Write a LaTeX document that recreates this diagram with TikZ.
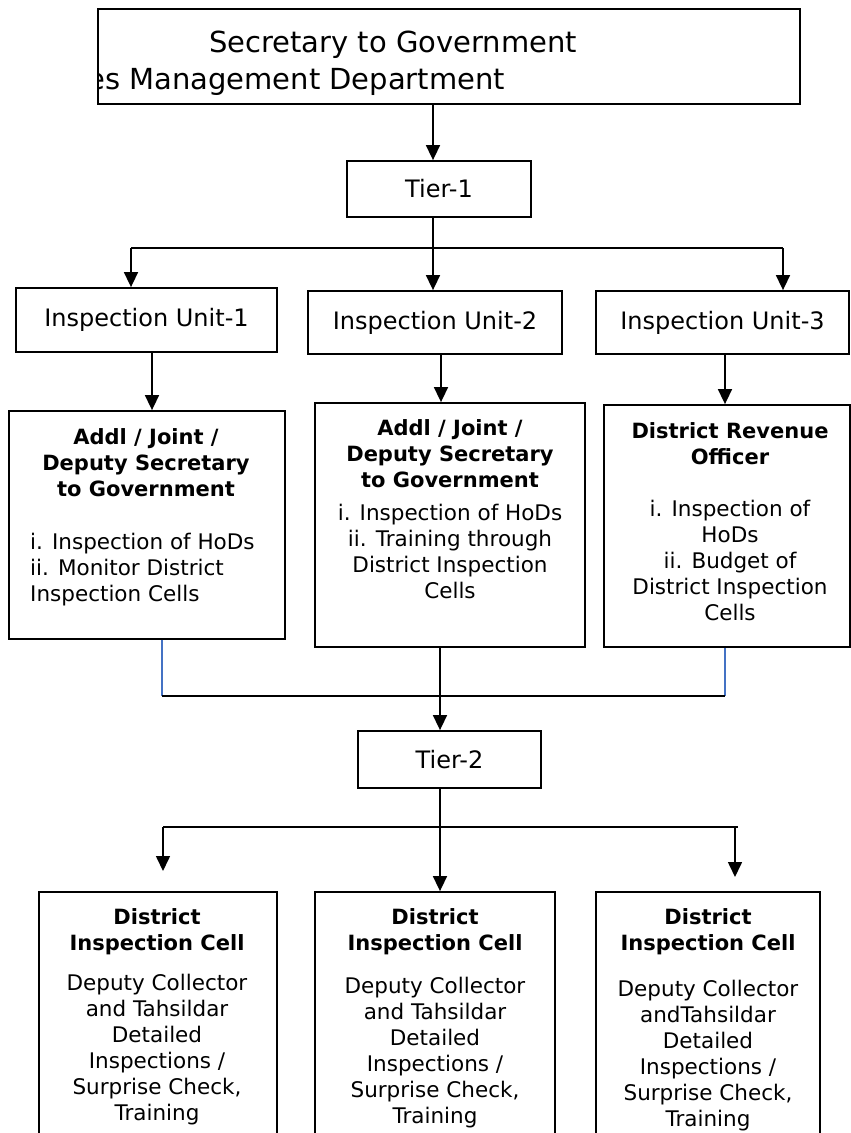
\documentclass[tikz,border=0pt]{standalone}
\usepackage{fontspec}
\setmainfont{DejaVu Sans}
\usetikzlibrary{arrows.meta}
\definecolor{lineblue}{HTML}{4472C4}
\begin{document}
\begin{tikzpicture}[x=1pt,y=-1pt,
  box/.style={draw, line width=1.8pt, inner sep=0pt},
  arr/.style={line width=1.6pt, -{Triangle[length=15pt,width=14pt]}},
  ln/.style={line width=1.6pt},
  bl/.style={line width=1.3pt, draw=lineblue},
  unit/.style={font=\fontsize{24}{28}\selectfont},
  body/.style={font=\fontsize{21.5}{26}\selectfont, inner sep=0pt, align=center},
  hd/.style={font=\fontsize{21}{26}\selectfont\bfseries, inner sep=0pt, align=center},
]
\clip (0,0) rectangle (851,1133);
\fill[white] (0,0) rectangle (851,1133);

% boxes
\node[box, minimum width=702pt, minimum height=95pt] (top) at (449,56.5) {};
\node[box, unit, minimum width=184pt, minimum height=56pt] (t1) at (439,189) {Tier-1};
\node[box, unit, minimum width=261pt, minimum height=64pt] (iu1) at (146.5,320) {Inspection Unit-1};
\node[box, unit, minimum width=254pt, minimum height=63pt] (iu2) at (435,322.5) {Inspection Unit-2};
\node[box, unit, minimum width=253pt, minimum height=63pt] (iu3) at (722.5,322.5) {Inspection Unit-3};
\node[box, minimum width=276pt, minimum height=228pt] (b1) at (147,525) {};
\node[box, minimum width=270pt, minimum height=244pt] (b2) at (450,525) {};
\node[box, minimum width=246pt, minimum height=242pt] (b3) at (727,526) {};
\node[box, unit, minimum width=183pt, minimum height=57pt] (t2) at (449.5,759.5) {Tier-2};
\node[box, minimum width=238pt, minimum height=268pt] (c1) at (158,1026) {};
\node[box, minimum width=240pt, minimum height=268pt] (c2) at (435,1026) {};
\node[box, minimum width=224pt, minimum height=268pt] (c3) at (708,1026) {};

% top texts
\node[font=\fontsize{29}{35}\selectfont, inner sep=0pt] (s1) at (393,45) {Secretary to Government};
\begin{scope}
\clip (top.north west) rectangle (top.south east);
\node[font=\fontsize{29}{35}\selectfont, inner sep=0pt, anchor=west] (s2) at (87,82) {es Management Department};
\end{scope}

% box texts
\node[hd, anchor=north] (b1t) at (146,428.5) {Addl / Joint /\\Deputy Secretary\\to Government};
\node[body, align=left, anchor=north west] (b1b) at (30,532.5) {i. Inspection of HoDs\\ii. Monitor District\\Inspection Cells};
\node[hd, anchor=north] (b2t) at (450,419.5) {Addl / Joint /\\Deputy Secretary\\to Government};
\node[body, anchor=north] (b2b) at (450,503.5) {i. Inspection of HoDs\\ii. Training through\\District Inspection\\Cells};
\node[hd, anchor=north] (b3t) at (730,422.5) {District Revenue\\Officer};
\node[body, anchor=north] (b3b) at (730,499.5) {i. Inspection of\\HoDs\\ii. Budget of\\District Inspection\\Cells};

\node[hd, anchor=north] (c1t) at (157,908.5) {District\\Inspection Cell};
\node[body, anchor=north] (c1b) at (157,973.5) {Deputy Collector\\and Tahsildar\\Detailed\\Inspections /\\Surprise Check,\\Training};
\node[hd, anchor=north] (c2t) at (435,908.5) {District\\Inspection Cell};
\node[body, anchor=north] (c2b) at (435,976.5) {Deputy Collector\\and Tahsildar\\Detailed\\Inspections /\\Surprise Check,\\Training};
\node[hd, anchor=north] (c3t) at (708,908.5) {District\\Inspection Cell};
\node[body, anchor=north] (c3b) at (708,979.5) {Deputy Collector\\andTahsildar\\Detailed\\Inspections /\\Surprise Check,\\Training};

% connectors: top to tier-1 to units
\coordinate (a0) at (433,0);
\draw[arr] (top.south -| a0) -- (t1.north -| a0);
\coordinate (h1) at (433,248);
\coordinate (h1l) at (131,248);
\coordinate (h1r) at (783,248);
\draw[ln] (t1.south -| h1) -- (h1);
\draw[ln] (h1l) -- (h1r);
\draw[arr] (h1l) -- (iu1.north -| h1l);
\draw[arr] (h1) -- (iu2.north -| h1);
\draw[arr] (h1r) -- (iu3.north -| h1r);

% units to boxes
\coordinate (v1) at (152,0);
\coordinate (v2) at (441,0);
\coordinate (v3) at (725,0);
\draw[arr] (iu1.south -| v1) -- (b1.north -| v1);
\draw[arr] (iu2.south -| v2) -- (b2.north -| v2);
\draw[arr] (iu3.south -| v3) -- (b3.north -| v3);

% boxes to tier-2
\coordinate (j1) at (162,696);
\coordinate (j2) at (440,696);
\coordinate (j3) at (725,696);
\draw[bl] (b1.south -| j1) -- (j1);
\draw[bl] (b3.south -| j3) -- (j3);
\draw[ln] (j1) -- (j3);
\draw[arr] (b2.south -| j2) -- (t2.north -| j2);

% tier-2 to cells
\coordinate (k2) at (440,827);
\coordinate (kl) at (163,827);
\coordinate (kr) at (738,827);
\coordinate (kr3) at (735,827);
\coordinate (e1) at (163,871);
\coordinate (e3) at (735,877);
\draw[ln] (t2.south -| k2) -- (k2);
\draw[ln] (kl) -- (kr);
\draw[arr] (kl) -- (e1);
\draw[arr] (k2) -- (c2.north -| k2);
\draw[arr] (kr3) -- (e3);
\end{tikzpicture}
\end{document}
